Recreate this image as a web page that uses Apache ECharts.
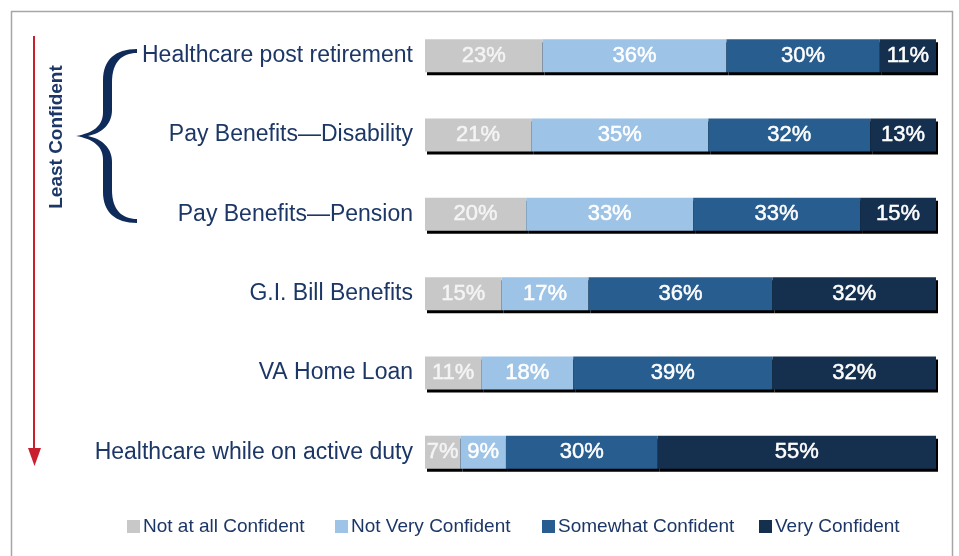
<!DOCTYPE html>
<html>
<head>
<meta charset="utf-8">
<script src="https://cdn.jsdelivr.net/npm/echarts@6/dist/echarts.min.js"></script>
<style>
  html, body { margin: 0; padding: 0; background: #fff; }
  #c_chart { width: 959px; height: 556px; }
</style>
</head>
<body>
<div id="c_chart"></div>
<script>
// categories, top to bottom
const categories = ['Healthcare post retirement', 'Pay Benefits\u2014Disability', 'Pay Benefits\u2014Pension',
  'G.I. Bill Benefits', 'VA Home Loan', 'Healthcare while on active duty']
const seriesNames = ['Not at all Confident', 'Not Very Confident', 'Somewhat Confident', 'Very Confident']
// percentages
const notAtAll = [23, 21, 20, 15, 11, 7]
const notVery = [36, 35, 33, 17, 18, 9]
const somewhat = [30, 32, 33, 36, 39, 30]
const very = [11, 13, 15, 32, 32, 55]
const colors = ['#c8c8c8', '#9dc3e6', '#285d8f', '#15304f']

const rows = [notAtAll, notVery, somewhat, very]
// row totals (some rows add to 101 because of rounding) so every bar fills the width
const totals = categories.map((c, i) => rows.reduce((s, r) => s + r[i], 0))

const navy = '#1c3766'
const chart = echarts.init(document.getElementById('c_chart'))

// sample a brace outline built from cubic curves into polygon points
function sampleBrace (start, segs) {
  const pts = [start]
  let cur = start
  segs.forEach(s => {
    if (s.length === 2) {
      pts.push(s)
      cur = s
    } else {
      const [x1, y1, x2, y2, x, y] = s
      for (let k = 1; k <= 16; k++) {
        const t = k / 16
        const u = 1 - t
        pts.push([
          u * u * u * cur[0] + 3 * u * u * t * x1 + 3 * u * t * t * x2 + t * t * t * x,
          u * u * u * cur[1] + 3 * u * u * t * y1 + 3 * u * t * t * y2 + t * t * t * y
        ])
      }
      cur = [x, y]
    }
  })
  return pts
}
const bracePts = sampleBrace([137, 49], [
  [115, 49, 103, 60, 103, 80],
  [103, 112],
  [103, 126, 93, 133, 76, 136],
  [93, 139, 103, 146, 103, 160],
  [103, 192],
  [103, 212, 115, 223, 137, 223],
  [137, 219],
  [122, 219, 112, 210, 112, 190],
  [112, 162],
  [112, 148, 102, 139, 88, 136],
  [102, 133, 112, 124, 112, 110],
  [112, 82],
  [112, 62, 122, 53, 137, 53]
])

const legendLeft = [122, 330, 537, 754]

const option = {
  animation: false,
  grid: {
    left: 425,
    right: 23,
    top: 16,
    height: 476
  },
  xAxis: {
    type: 'value',
    min: 0,
    max: 100,
    show: false
  },
  yAxis: {
    type: 'category',
    data: categories,
    inverse: true,
    axisLine: { show: false },
    axisTick: { show: false },
    splitLine: { show: false },
    axisLabel: {
      margin: 12,
      color: navy,
      fontSize: 23,
      fontFamily: 'Liberation Sans, Arial, sans-serif'
    }
  },
  legend: seriesNames.map((name, i) => ({
    data: [name],
    left: legendLeft[i],
    top: 512,
    icon: 'rect',
    itemWidth: 13,
    itemHeight: 13,
    itemGap: 0,
    textStyle: {
      color: navy,
      fontSize: 19,
      fontFamily: 'Liberation Sans, Arial, sans-serif',
      padding: [0, 0, 0, -2]
    }
  })),
  series: rows.map((r, si) => ({
    name: seriesNames[si],
    type: 'bar',
    stack: 'total',
    barWidth: 33,
    data: r.map((v, i) => v / totals[i] * 100),
    itemStyle: {
      color: colors[si],
      shadowColor: '#000',
      shadowOffsetY: 3,
      shadowOffsetX: 2,
      shadowBlur: 0
    },
    label: {
      show: true,
      position: 'inside',
      color: si === 0 ? '#f4f4f4' : '#fff',
      fontSize: 22,
      fontFamily: 'Liberation Sans, Arial, sans-serif',
      textBorderColor: si === 0 ? '#f4f4f4' : '#fff',
      textBorderWidth: 0.5,
      formatter: p => rows[p.seriesIndex][p.dataIndex] + '%'
    }
  })),
  graphic: [
    {
      type: 'rect',
      shape: { x: 11.5, y: 11.5, width: 941, height: 560 },
      style: { fill: 'none', stroke: '#a6a6a6', lineWidth: 1.5 },
      silent: true
    },
    {
      type: 'line',
      shape: { x1: 34, y1: 36, x2: 34, y2: 452 },
      style: { stroke: '#c8202f', lineWidth: 2 }
    },
    {
      type: 'polygon',
      shape: { points: [[28, 448], [41, 448], [34.5, 466]] },
      style: { fill: '#c8202f' }
    },
    {
      type: 'text',
      x: 57,
      y: 137,
      rotation: Math.PI / 2,
      style: {
        text: 'Least Confident',
        fill: navy,
        font: 'bold 19px Liberation Sans, Arial, sans-serif',
        textAlign: 'center',
        textVerticalAlign: 'middle'
      }
    },
    {
      type: 'polygon',
      shape: { points: bracePts },
      style: { fill: '#0f2b5a' }
    }
  ]
}
chart.setOption(option, true)
window.addEventListener('resize', function () {
  chart.resize()
})
</script>
</body>
</html>
